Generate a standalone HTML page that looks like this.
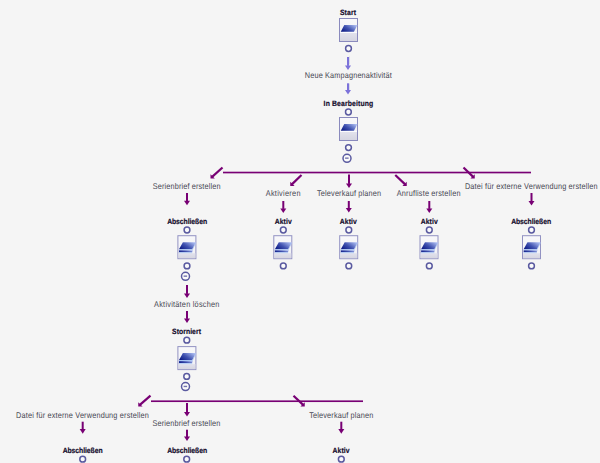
<!DOCTYPE html>
<html><head><meta charset="utf-8"><style>
html,body{margin:0;padding:0;background:#f5f5f5;}
body{width:600px;height:463px;overflow:hidden;position:relative;}
svg{position:absolute;left:0;top:0;font-family:"Liberation Sans",sans-serif;text-rendering:geometricPrecision;}
</style></head><body>
<svg width="600" height="463" viewBox="0 0 600 463">
<defs>
<linearGradient id="pg" x1="0" y1="0.8" x2="1" y2="0.2">
 <stop offset="0" stop-color="#0e1c86"/><stop offset="0.45" stop-color="#4052b0"/><stop offset="1" stop-color="#aebef2"/>
</linearGradient>
<linearGradient id="topg" x1="0" y1="0" x2="0" y2="1">
 <stop offset="0" stop-color="#f8f8fa"/><stop offset="1" stop-color="#efeff4"/>
</linearGradient>
<linearGradient id="botg" x1="0" y1="0" x2="0" y2="1">
 <stop offset="0" stop-color="#e2e2ec"/><stop offset="1" stop-color="#d5d5e1"/>
</linearGradient>
<g id="bx1">
 <rect x="0.5" y="0.5" width="18" height="23" fill="url(#topg)" stroke="#8a8abd" stroke-width="1"/>
 <rect x="1" y="15" width="17" height="8" fill="url(#botg)"/>
 <rect x="1" y="14" width="17" height="1" fill="#fbfbfd"/>
 <polygon points="5.25,7 18.5,7 14.9,13.8 1.75,13.8" fill="url(#pg)"/>
</g>
<g id="bx2">
 <rect x="0.5" y="0.5" width="18" height="23" fill="url(#topg)" stroke="#9292c2" stroke-width="1"/>
 <rect x="1" y="18" width="17" height="5" fill="url(#botg)"/>
 <polygon points="5.5,7 18.6,7 15,14 1.6,14" fill="url(#pg)"/>
 <line x1="18.4" y1="7.6" x2="15.2" y2="14" stroke="#a6c0f0" stroke-width="0.7"/>
 <polygon points="1.6,14 15,14 15.5,15 1.6,15" fill="#a8c4f2"/>
 <polygon points="1.6,15 15.5,15 14.6,17 1.6,17" fill="url(#pg)"/>
 <rect x="1.6" y="17" width="13.2" height="1" fill="#b4ccf4"/>
</g>
</defs>
<text transform="scale(0.89,1)" x="381.90" y="15.4" font-size="7.7" font-weight="700" fill="#140c2c" stroke="#140c2c" stroke-width="0.18" textLength="18.05" lengthAdjust="spacing">Start</text>
<use href="#bx1" transform="translate(339,18)"/>
<circle cx="348.5" cy="48.5" r="2.9" fill="#fafafa" stroke="#5a5aa0" stroke-width="1.5"/>
<rect x="349" y="56.5" width="1" height="8" fill="#c4cae2" opacity="0.6"/>
<rect x="347" y="57" width="2" height="8.90" fill="#7c72da"/>
<polygon points="345,65.40 351,65.40 348,70" fill="#7c72da"/>
<text transform="scale(0.88,1)" x="346.44" y="78" font-size="8.3" font-weight="400" fill="#484854" textLength="98.75" lengthAdjust="spacing">Neue Kampagnenaktivität</text>
<rect x="349" y="83.5" width="1" height="6.5" fill="#c4cae2" opacity="0.6"/>
<rect x="347" y="83.3" width="2" height="7.10" fill="#7c72da"/>
<polygon points="345,89.90 351,89.90 348,94.5" fill="#7c72da"/>
<text transform="scale(0.89,1)" x="363.62" y="106" font-size="7.7" font-weight="700" fill="#140c2c" stroke="#140c2c" stroke-width="0.18" textLength="55.69" lengthAdjust="spacing">In Bearbeitung</text>
<circle cx="348.4" cy="112" r="2.9" fill="#fafafa" stroke="#5a5aa0" stroke-width="1.5"/>
<use href="#bx1" transform="translate(339,117)"/>
<circle cx="348.5" cy="147.6" r="2.9" fill="#fafafa" stroke="#5a5aa0" stroke-width="1.5"/>
<circle cx="347" cy="158.3" r="4" fill="#fafafa" stroke="#5a5aa0" stroke-width="1.5"/>
<rect x="345.1" y="157.45000000000002" width="3.5" height="1.4" fill="#7474ae"/>
<rect x="223" y="171.7" width="308" height="1.65" fill="#780074"/>
<line x1="222.5" y1="167.5" x2="212.1" y2="176.9" stroke="#780074" stroke-width="2.2" stroke-linecap="butt"/>
<polygon points="210.5,174.2 210.5,178.5 214.8,178.5" fill="#780074"/>
<line x1="301.5" y1="175" x2="291.85" y2="184.4" stroke="#780074" stroke-width="2.2" stroke-linecap="butt"/>
<polygon points="290.25,181.7 290.25,186 294.55,186" fill="#780074"/>
<rect x="348" y="174.5" width="2" height="9.40" fill="#780074"/>
<polygon points="346,183.40 352,183.40 349,188" fill="#780074"/>
<line x1="395.25" y1="175" x2="405.15" y2="184.4" stroke="#780074" stroke-width="2.2" stroke-linecap="butt"/>
<polygon points="406.75,181.7 406.75,186 402.45,186" fill="#780074"/>
<line x1="463.5" y1="167.5" x2="473.15" y2="176.9" stroke="#780074" stroke-width="2.2" stroke-linecap="butt"/>
<polygon points="474.75,174.2 474.75,178.5 470.45,178.5" fill="#780074"/>
<text transform="scale(0.88,1)" x="173.62" y="189" font-size="8.3" font-weight="400" fill="#484854" textLength="76.97" lengthAdjust="spacing">Serienbrief erstellen</text>
<rect x="186" y="193" width="2" height="8.20" fill="#780074"/>
<polygon points="184,200.70 190,200.70 187,205.3" fill="#780074"/>
<text transform="scale(0.89,1)" x="187.80" y="223.7" font-size="7.7" font-weight="700" fill="#140c2c" stroke="#140c2c" stroke-width="0.18" textLength="44.90" lengthAdjust="spacing">Abschließen</text>
<circle cx="187" cy="230" r="2.9" fill="#fafafa" stroke="#5a5aa0" stroke-width="1.5"/>
<use href="#bx2" transform="translate(177.4,235.2)"/>
<circle cx="187" cy="265.9" r="2.9" fill="#fafafa" stroke="#5a5aa0" stroke-width="1.5"/>
<text transform="scale(0.88,1)" x="301.99" y="196" font-size="8.3" font-weight="400" fill="#484854" textLength="39.48" lengthAdjust="spacing">Aktivieren</text>
<rect x="282.3" y="201" width="2" height="7.90" fill="#780074"/>
<polygon points="280.3,208.40 286.3,208.40 283.3,213" fill="#780074"/>
<text transform="scale(0.89,1)" x="308.65" y="223.7" font-size="7.7" font-weight="700" fill="#140c2c" stroke="#140c2c" stroke-width="0.18" textLength="19.15" lengthAdjust="spacing">Aktiv</text>
<circle cx="283.3" cy="230" r="2.9" fill="#fafafa" stroke="#5a5aa0" stroke-width="1.5"/>
<use href="#bx2" transform="translate(273.3,235.2)"/>
<circle cx="283.3" cy="265.9" r="2.9" fill="#fafafa" stroke="#5a5aa0" stroke-width="1.5"/>
<text transform="scale(0.88,1)" x="360.29" y="196" font-size="8.3" font-weight="400" fill="#484854" textLength="72.75" lengthAdjust="spacing">Televerkauf planen</text>
<rect x="347.8" y="201" width="2" height="7.50" fill="#780074"/>
<polygon points="345.8,208.00 351.8,208.00 348.8,212.6" fill="#780074"/>
<text transform="scale(0.89,1)" x="381.79" y="223.7" font-size="7.7" font-weight="700" fill="#140c2c" stroke="#140c2c" stroke-width="0.18" textLength="19.15" lengthAdjust="spacing">Aktiv</text>
<circle cx="348.8" cy="230" r="2.9" fill="#fafafa" stroke="#5a5aa0" stroke-width="1.5"/>
<use href="#bx2" transform="translate(339.2,235.2)"/>
<circle cx="348.8" cy="265.9" r="2.9" fill="#fafafa" stroke="#5a5aa0" stroke-width="1.5"/>
<text transform="scale(0.88,1)" x="450.91" y="196" font-size="8.3" font-weight="400" fill="#484854" textLength="72.37" lengthAdjust="spacing">Anrufliste erstellen</text>
<rect x="428.3" y="201" width="2" height="7.90" fill="#780074"/>
<polygon points="426.3,208.40 432.3,208.40 429.3,213" fill="#780074"/>
<text transform="scale(0.89,1)" x="472.69" y="223.7" font-size="7.7" font-weight="700" fill="#140c2c" stroke="#140c2c" stroke-width="0.18" textLength="19.15" lengthAdjust="spacing">Aktiv</text>
<circle cx="429.3" cy="230" r="2.9" fill="#fafafa" stroke="#5a5aa0" stroke-width="1.5"/>
<use href="#bx2" transform="translate(419.5,235.2)"/>
<circle cx="429.3" cy="265.9" r="2.9" fill="#fafafa" stroke="#5a5aa0" stroke-width="1.5"/>
<text transform="scale(0.88,1)" x="528.31" y="189.2" font-size="8.3" font-weight="400" fill="#484854" textLength="150.77" lengthAdjust="spacing">Datei für externe Verwendung erstellen</text>
<rect x="530.5" y="193" width="2" height="8.50" fill="#780074"/>
<polygon points="528.5,201.00 534.5,201.00 531.5,205.6" fill="#780074"/>
<text transform="scale(0.89,1)" x="574.32" y="223.7" font-size="7.7" font-weight="700" fill="#140c2c" stroke="#140c2c" stroke-width="0.18" textLength="44.90" lengthAdjust="spacing">Abschließen</text>
<circle cx="531.5" cy="230" r="2.9" fill="#fafafa" stroke="#5a5aa0" stroke-width="1.5"/>
<use href="#bx2" transform="translate(522,235.2)"/>
<circle cx="531.5" cy="265.9" r="2.9" fill="#fafafa" stroke="#5a5aa0" stroke-width="1.5"/>
<circle cx="185.5" cy="276.3" r="4" fill="#fafafa" stroke="#5a5aa0" stroke-width="1.5"/>
<rect x="183.6" y="275.45" width="3.5" height="1.4" fill="#7474ae"/>
<rect x="186" y="285" width="2" height="8.90" fill="#780074"/>
<polygon points="184,293.40 190,293.40 187,298" fill="#780074"/>
<text transform="scale(0.88,1)" x="175.11" y="306.7" font-size="8.3" font-weight="400" fill="#484854" textLength="74.20" lengthAdjust="spacing">Aktivitäten löschen</text>
<rect x="186" y="311" width="2" height="7.90" fill="#780074"/>
<polygon points="184,318.40 190,318.40 187,323" fill="#780074"/>
<text transform="scale(0.89,1)" x="193.36" y="334.3" font-size="7.7" font-weight="700" fill="#140c2c" stroke="#140c2c" stroke-width="0.18" textLength="32.42" lengthAdjust="spacing">Storniert</text>
<circle cx="186.8" cy="340.2" r="2.9" fill="#fafafa" stroke="#5a5aa0" stroke-width="1.5"/>
<use href="#bx2" transform="translate(177.4,346.1)"/>
<circle cx="186.7" cy="376.4" r="2.9" fill="#fafafa" stroke="#5a5aa0" stroke-width="1.5"/>
<circle cx="185.5" cy="386.6" r="4" fill="#fafafa" stroke="#5a5aa0" stroke-width="1.5"/>
<rect x="183.6" y="385.75" width="3.5" height="1.4" fill="#7474ae"/>
<rect x="151" y="400.4" width="212" height="1.65" fill="#780074"/>
<line x1="150.5" y1="395.7" x2="139.85" y2="404.9" stroke="#780074" stroke-width="2.2" stroke-linecap="butt"/>
<polygon points="138.25,402.2 138.25,406.5 142.55,406.5" fill="#780074"/>
<rect x="186" y="403" width="2" height="9.40" fill="#780074"/>
<polygon points="184,411.90 190,411.90 187,416.5" fill="#780074"/>
<line x1="293.5" y1="395.7" x2="303.15" y2="404.9" stroke="#780074" stroke-width="2.2" stroke-linecap="butt"/>
<polygon points="304.75,402.2 304.75,406.5 300.45,406.5" fill="#780074"/>
<text transform="scale(0.88,1)" x="18.31" y="417.6" font-size="8.3" font-weight="400" fill="#484854" textLength="150.77" lengthAdjust="spacing">Datei für externe Verwendung erstellen</text>
<rect x="81.7" y="421.7" width="2" height="7.90" fill="#780074"/>
<polygon points="79.7,429.10 85.7,429.10 82.7,433.7" fill="#780074"/>
<text transform="scale(0.89,1)" x="70.39" y="452.9" font-size="7.7" font-weight="700" fill="#140c2c" stroke="#140c2c" stroke-width="0.18" textLength="44.90" lengthAdjust="spacing">Abschließen</text>
<circle cx="82.7" cy="459.2" r="2.9" fill="#fafafa" stroke="#5a5aa0" stroke-width="1.5"/>
<text transform="scale(0.88,1)" x="173.39" y="425.5" font-size="8.3" font-weight="400" fill="#484854" textLength="76.97" lengthAdjust="spacing">Serienbrief erstellen</text>
<rect x="186" y="429.7" width="2" height="7.30" fill="#780074"/>
<polygon points="184,436.50 190,436.50 187,441.1" fill="#780074"/>
<text transform="scale(0.89,1)" x="187.80" y="452.9" font-size="7.7" font-weight="700" fill="#140c2c" stroke="#140c2c" stroke-width="0.18" textLength="44.90" lengthAdjust="spacing">Abschließen</text>
<circle cx="186.7" cy="459.2" r="2.9" fill="#fafafa" stroke="#5a5aa0" stroke-width="1.5"/>
<text transform="scale(0.88,1)" x="351.42" y="417.6" font-size="8.3" font-weight="400" fill="#484854" textLength="72.75" lengthAdjust="spacing">Televerkauf planen</text>
<rect x="340.3" y="421.7" width="2" height="7.90" fill="#780074"/>
<polygon points="338.3,429.10 344.3,429.10 341.3,433.7" fill="#780074"/>
<text transform="scale(0.89,1)" x="373.70" y="452.9" font-size="7.7" font-weight="700" fill="#140c2c" stroke="#140c2c" stroke-width="0.18" textLength="19.15" lengthAdjust="spacing">Aktiv</text>
<circle cx="341.3" cy="459.2" r="2.9" fill="#fafafa" stroke="#5a5aa0" stroke-width="1.5"/>
</svg>
</body></html>
